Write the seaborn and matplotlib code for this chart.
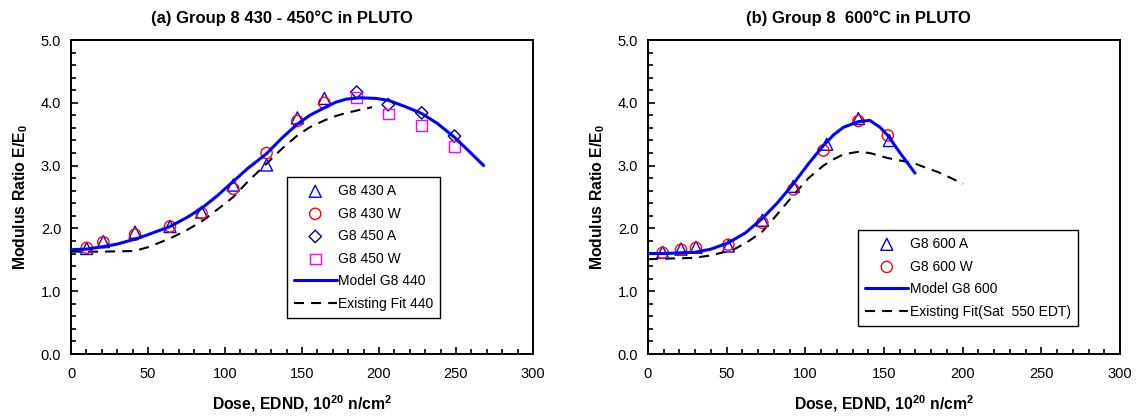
import numpy as np
import pandas as pd
import matplotlib
matplotlib.use("Agg")
import matplotlib.pyplot as plt
from matplotlib.ticker import MultipleLocator, FormatStrFormatter
import seaborn as sns

# ---------------- data: panel (a) ----------------
dose_430 = [10.2, 21.0, 41.6, 64.3, 84.8, 105.4, 127.0, 147.0, 164.5]
e_430A = [1.68, 1.79, 1.94, 2.03, 2.26, 2.69, 3.01, 3.76, 4.07]
e_430W = [1.69, 1.78, 1.90, 2.03, 2.24, 2.63, 3.20, 3.71, 4.00]
dose_450 = [185.5, 206.0, 227.7, 249.0]
e_450A = [4.17, 3.97, 3.84, 3.47]
e_450W = [4.09, 3.82, 3.64, 3.30]

model_440_x = [0, 10, 21, 30, 41.6, 50, 64.3, 75, 84.8, 95, 105.4, 115, 127, 137,
               147, 155, 164.5, 172, 179, 188, 198, 206, 218, 227.7, 238, 249, 258, 268]
model_440_y = [1.66, 1.67, 1.71, 1.75, 1.83, 1.90, 2.03, 2.17, 2.32, 2.52, 2.75, 2.96, 3.19, 3.44,
               3.66, 3.80, 3.92, 4.01, 4.06, 4.08, 4.07, 4.04, 3.93, 3.83, 3.67, 3.45, 3.24, 3.00]

fit_440_x = [0, 20, 41, 50, 64.3, 75, 84.8, 95, 105.4, 115, 127, 137, 147, 155, 164.5, 172, 179, 188, 195.5]
fit_440_y = [1.63, 1.63, 1.64, 1.70, 1.84, 1.97, 2.11, 2.30, 2.50, 2.75, 3.03, 3.27, 3.48, 3.61, 3.72, 3.79, 3.84, 3.89, 3.93]

# ---------------- data: panel (b) ----------------
dose_600A = [9.3, 21.0, 30.5, 51.1, 72.7, 92.4, 113.6, 133.7, 153.4]
e_600A = [1.62, 1.67, 1.70, 1.72, 2.13, 2.67, 3.34, 3.75, 3.40]
dose_600W = [9.3, 21.0, 30.5, 51.1, 72.7, 92.4, 111.5, 133.7, 152.4]
e_600W = [1.61, 1.66, 1.69, 1.74, 2.09, 2.62, 3.24, 3.71, 3.48]

model_600_x = [0, 10, 20, 30, 40, 51, 62, 72.7, 82, 92.4, 102, 111.5, 118, 124.2, 133.7,
               141, 147.5, 152.4, 160, 169.7]
model_600_y = [1.60, 1.60, 1.61, 1.62, 1.67, 1.77, 1.93, 2.16, 2.40, 2.71, 3.03, 3.32, 3.49, 3.61, 3.70,
               3.72, 3.61, 3.48, 3.21, 2.88]

fit_600_x = [0, 28.8, 40, 54.2, 63, 72.7, 82, 92.4, 102, 111.5, 118, 124.2, 133.7, 141, 152.4,
             168.7, 185, 200.4]
fit_600_y = [1.51, 1.53, 1.57, 1.66, 1.78, 1.95, 2.22, 2.53, 2.80, 3.00, 3.10, 3.18, 3.22, 3.20, 3.12,
             3.04, 2.89, 2.71]

# ---------------- style ----------------
sns.set_style("ticks")
plt.rcParams["font.family"] = ["Liberation Sans", "DejaVu Sans"]
plt.rcParams["font.size"] = 10
plt.rcParams["axes.linewidth"] = 1.4
plt.rcParams["text.color"] = "black"
plt.rcParams["axes.labelcolor"] = "black"
plt.rcParams["axes.edgecolor"] = "black"
plt.rcParams["xtick.color"] = "black"
plt.rcParams["ytick.color"] = "black"
plt.rcParams["mathtext.fontset"] = "custom"
plt.rcParams["mathtext.rm"] = "Liberation Sans"
plt.rcParams["mathtext.bf"] = "Liberation Sans:bold"
plt.rcParams["mathtext.it"] = "Liberation Sans:italic"

fig = plt.figure(figsize=(11.39, 4.19), dpi=100)
ax1 = fig.add_axes([71 / 1139, 1 - 354 / 419, 462 / 1139, 314 / 419])
ax2 = fig.add_axes([648 / 1139, 1 - 354 / 419, 472 / 1139, 314 / 419])

ms = 65


def scatter(ax, x, y, marker, color, label, s=ms):
    sns.scatterplot(x=x, y=y, ax=ax, marker=marker, color=color, facecolor="none",
                    edgecolor=color, linewidth=1.0, s=s, label=label, zorder=3)


def model(ax, x, y, label):
    sns.lineplot(x=x, y=y, ax=ax, color="#0000FF", linewidth=2.2, label=label, zorder=4)


def fit(ax, x, y, label):
    sns.lineplot(x=x, y=y, ax=ax, color="black", linewidth=1.5,
                 linestyle=(0, (4.8, 3.4)), label=label, zorder=2)


# panel (a)
fit(ax1, fit_440_x, fit_440_y, "Existing Fit 440")
model(ax1, model_440_x, model_440_y, "Model G8 440")
scatter(ax1, dose_430, e_430A, "^", "#0000FF", "G8 430 A", s=75)
scatter(ax1, dose_430, e_430W, "o", "#FF0000", "G8 430 W")
scatter(ax1, dose_450, e_450A, "D", "#000080", "G8 450 A", s=40)
scatter(ax1, dose_450, e_450W, "s", "#FF00FF", "G8 450 W", s=60)

# panel (b)
fit(ax2, fit_600_x, fit_600_y, "Existing Fit(Sat  550 EDT)")
model(ax2, model_600_x, model_600_y, "Model G8 600")
scatter(ax2, dose_600A, e_600A, "^", "#0000FF", "G8 600 A", s=75)
scatter(ax2, dose_600W, e_600W, "o", "#FF0000", "G8 600 W")

order_a = ["G8 430 A", "G8 430 W", "G8 450 A", "G8 450 W", "Model G8 440", "Existing Fit 440"]
order_b = ["G8 600 A", "G8 600 W", "Model G8 600", "Existing Fit(Sat  550 EDT)"]

for ax, order, anchor in [(ax1, order_a, (0.467, 0.115)),
                          (ax2, order_b, (0.4456, 0.090))]:
    h, l = ax.get_legend_handles_labels()
    d = dict(zip(l, h))
    leg = ax.legend([d[k] for k in order], order, loc="lower left", bbox_to_anchor=anchor,
                    frameon=True, fancybox=False, shadow=False, framealpha=1,
                    edgecolor="black", fontsize=10, handlelength=3.1, handletextpad=0.1,
                    labelspacing=0.62, borderpad=0.5, borderaxespad=0)
    leg.get_frame().set_linewidth(1.0)
    for t in leg.get_texts():
        t.set_color("black")

    ax.set_xlim(0, 300)
    ax.set_ylim(0, 5)
    ax.xaxis.set_major_locator(MultipleLocator(50))
    ax.xaxis.set_minor_locator(MultipleLocator(10))
    ax.yaxis.set_major_locator(MultipleLocator(1))
    ax.yaxis.set_minor_locator(MultipleLocator(0.2))
    ax.yaxis.set_major_formatter(FormatStrFormatter("%.1f"))
    ax.tick_params(which="both", direction="in", top=False, right=False, width=1.2, labelsize=10.5,
                   colors="black")
    ax.tick_params(axis="x", which="major", length=5, pad=9)
    ax.tick_params(axis="x", which="minor", length=3.5)
    ax.tick_params(axis="y", which="major", length=5, pad=7)
    ax.tick_params(axis="y", which="minor", length=3.5)
    for sp in ax.spines.values():
        sp.set_visible(True)
        sp.set_linewidth(1.4)
        sp.set_color("black")
    ax.set_xlabel(r"Dose, EDND, 10$^{\mathbf{20}}$ n/cm$^{\mathbf{2}}$", fontweight="bold", fontsize=11.3,
                  labelpad=9, color="black")
    ax.set_ylabel(r"Modulus Ratio E/E$_{\mathbf{0}}$", fontweight="bold", fontsize=11.3, labelpad=8,
                  color="black")

fig.text(282 / 1139, 1 - 18 / 419, "(a) Group 8 430 - 450°C in PLUTO", ha="center", va="center",
         fontweight="bold", fontsize=12, color="black")
fig.text(858 / 1139, 1 - 18 / 419, "(b) Group 8  600°C in PLUTO", ha="center", va="center",
         fontweight="bold", fontsize=12, color="black")

fig.savefig("out.png", dpi=100)
